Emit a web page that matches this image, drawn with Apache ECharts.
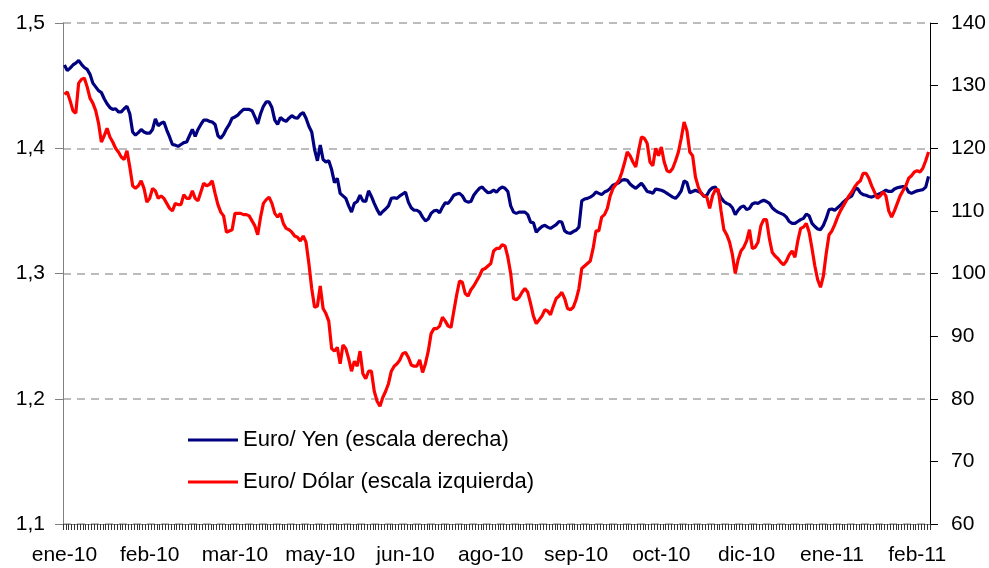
<!DOCTYPE html>
<html>
<head>
<meta charset="utf-8">
<script src="https://cdn.jsdelivr.net/npm/echarts@6/dist/echarts.min.js"></script>
<style>
    html, body {margin: 0; padding: 0; background: #fff;}
    #chartDiv {width: 989px; height: 568px;}
</style>
</head>
<body>
<div id="chartDiv"></div>
<script>
    // etiquetas del eje x, una cada 30 sesiones
    var tickLabels = ['ene-10', 'feb-10', 'mar-10', 'may-10', 'jun-10', 'ago-10', 'sep-10', 'oct-10', 'dic-10', 'ene-11', 'feb-11'];
    var labelStep = 30;

    // Euro/ Dolar (escala izquierda)
    var euroDolar = [
        1.443, 1.445, 1.438, 1.430, 1.428, 1.452, 1.455, 1.456, 1.449, 1.440,
        1.436, 1.430, 1.420, 1.405, 1.410, 1.416, 1.409, 1.405, 1.400, 1.397,
        1.393, 1.391, 1.398, 1.385, 1.370, 1.368, 1.370, 1.374, 1.368, 1.357,
        1.360, 1.368, 1.366, 1.360, 1.362, 1.360, 1.356, 1.352, 1.350, 1.356,
        1.355, 1.355, 1.363, 1.360, 1.360, 1.366, 1.360, 1.358, 1.365, 1.372,
        1.370, 1.371, 1.374, 1.364, 1.355, 1.349, 1.346, 1.333, 1.334, 1.335,
        1.348, 1.348, 1.348, 1.347, 1.347, 1.346, 1.342, 1.338, 1.331, 1.345,
        1.356, 1.359, 1.361, 1.356, 1.348, 1.345, 1.348, 1.340, 1.336, 1.335,
        1.333, 1.330, 1.329, 1.326, 1.330, 1.325, 1.308, 1.288, 1.273, 1.274,
        1.290, 1.272, 1.268, 1.262, 1.240, 1.238, 1.241, 1.228, 1.243, 1.240,
        1.232, 1.222, 1.230, 1.226, 1.238, 1.220, 1.216, 1.222, 1.222, 1.206,
        1.198, 1.194, 1.201, 1.206, 1.212, 1.222, 1.226, 1.228, 1.231, 1.236,
        1.237, 1.233, 1.227, 1.226, 1.226, 1.231, 1.221, 1.228, 1.238, 1.252,
        1.256, 1.256, 1.258, 1.265, 1.262, 1.258, 1.257, 1.270, 1.283, 1.294,
        1.293, 1.284, 1.282, 1.287, 1.290, 1.294, 1.298, 1.303, 1.304, 1.306,
        1.308, 1.318, 1.320, 1.320, 1.323, 1.322, 1.313, 1.300, 1.280, 1.279,
        1.281, 1.285, 1.288, 1.285, 1.276, 1.266, 1.260, 1.263, 1.266, 1.271,
        1.270, 1.267, 1.274, 1.280, 1.282, 1.285, 1.280, 1.272, 1.271, 1.273,
        1.279, 1.288, 1.304, 1.306, 1.308, 1.310, 1.320, 1.334, 1.334, 1.345,
        1.347, 1.352, 1.362, 1.368, 1.371, 1.374, 1.380, 1.388, 1.397, 1.394,
        1.389, 1.385, 1.398, 1.409, 1.408, 1.404, 1.389, 1.386, 1.400, 1.394,
        1.401, 1.389, 1.382, 1.381, 1.384, 1.390, 1.397, 1.408, 1.421, 1.414,
        1.397, 1.394, 1.377, 1.369, 1.364, 1.362, 1.361, 1.352, 1.362, 1.367,
        1.367, 1.350, 1.335, 1.331, 1.325, 1.315, 1.300, 1.311, 1.318, 1.321,
        1.326, 1.335, 1.320, 1.321, 1.325, 1.338, 1.343, 1.343, 1.328, 1.317,
        1.314, 1.312, 1.309, 1.307, 1.310, 1.315, 1.318, 1.313, 1.326, 1.336,
        1.337, 1.340, 1.333, 1.320, 1.306, 1.295, 1.289, 1.298, 1.316, 1.331,
        1.334, 1.339, 1.345, 1.350, 1.354, 1.358, 1.362, 1.365, 1.369, 1.372,
        1.374, 1.380, 1.380, 1.376, 1.370, 1.365, 1.360, 1.362, 1.365, 1.362,
        1.350, 1.345, 1.350, 1.356, 1.362, 1.366, 1.370, 1.376, 1.378, 1.381,
        1.382, 1.381, 1.384, 1.390, 1.397
    ];

    // Euro/ Yen (escala derecha)
    var euroYen = [
        133.3, 132.4, 132.8, 133.3, 133.6, 134.0, 133.4, 132.9, 132.6, 131.8,
        130.4, 129.8, 129.2, 128.9, 127.9, 127.1, 126.5, 126.2, 126.3, 125.8,
        125.8, 126.3, 126.7, 125.5, 122.6, 122.1, 122.5, 123.0, 122.6, 122.4,
        122.4, 123.0, 124.7, 123.6, 124.0, 124.2, 122.9, 121.8, 120.6, 120.5,
        120.3, 120.6, 120.9, 121.0, 122.0, 123.0, 121.9, 123.0, 123.8, 124.5,
        124.5, 124.3, 124.2, 123.8, 122.0, 121.6, 122.2, 123.1, 123.8, 124.8,
        125.0, 125.3, 125.8, 126.2, 126.2, 126.2, 126.0, 125.0, 123.9, 125.5,
        126.7, 127.4, 127.4, 126.5, 124.5, 123.8, 124.9, 124.5, 124.3, 124.8,
        125.2, 124.9, 124.8, 125.4, 125.7, 124.8, 123.5, 122.6, 119.8, 118.0,
        120.5, 118.2, 117.8, 118.0, 116.6, 114.5, 115.2, 112.8, 112.4, 112.0,
        110.8, 109.8, 111.2, 111.5, 112.5, 111.6, 111.5, 113.2, 112.3, 111.2,
        110.2, 109.4, 109.9, 110.3, 110.8, 112.0, 112.1, 112.0, 112.4, 112.7,
        113.0, 111.4, 110.5, 110.1, 110.1, 109.8, 109.0, 108.4, 108.7, 109.6,
        110.0, 110.1, 109.7, 110.6, 111.3, 111.2, 111.8, 112.5, 112.7, 112.8,
        112.4, 111.6, 111.4, 111.5, 112.5, 113.1, 113.6, 113.8, 113.3, 112.9,
        113.0, 113.3, 113.0, 113.5, 113.8, 113.6, 113.1, 110.8, 109.8, 109.6,
        109.8, 109.8, 109.8, 109.4, 108.2, 108.1, 106.6, 107.1, 107.5, 107.7,
        107.4, 107.2, 107.5, 107.8, 108.3, 108.2, 106.8, 106.5, 106.4, 106.7,
        106.9, 107.4, 111.6, 111.9, 112.0, 112.2, 112.5, 113.0, 112.8, 112.6,
        113.0, 113.2, 113.6, 114.1, 114.3, 114.5, 114.9, 115.0, 114.9, 114.3,
        113.9, 113.6, 114.0, 114.4, 113.8, 113.1, 113.0, 112.8, 113.5, 113.4,
        113.3, 113.1, 112.8, 112.5, 112.2, 112.0, 112.5, 113.2, 114.8, 114.5,
        112.9, 113.1, 113.3, 113.1, 112.9, 112.3, 112.5, 113.3, 113.7, 113.8,
        113.0, 112.1, 111.5, 111.2, 111.0, 110.5, 109.4, 110.1, 110.6, 110.8,
        110.2, 110.4, 111.1, 111.3, 111.2, 111.5, 111.7, 111.5, 111.2, 110.5,
        110.1, 109.8, 109.6, 109.4, 109.0, 108.3, 108.0, 108.0, 108.3, 108.6,
        108.8, 109.5, 109.2, 108.0, 107.5, 107.1, 107.0, 107.7, 108.8, 110.2,
        110.3, 110.1, 110.5, 110.9, 111.4, 111.8, 112.1, 112.4, 113.4, 113.6,
        112.9, 112.6, 112.5, 112.3, 112.2, 112.4, 112.6, 112.8, 113.0, 113.3,
        113.1, 113.1, 113.5, 113.7, 113.8, 113.9, 113.8, 113.0, 112.8, 113.0,
        113.2, 113.3, 113.4, 113.8, 115.5
    ];

    var sessions = euroDolar.map(function (v, i) {
        return i;
    });

    var fontFamily = 'Liberation Sans, Arial, sans-serif';

    function commaFormat(v) {
        return v.toFixed(1).replace('.', ',');
    }

    var chart = echarts.init(document.getElementById('chartDiv'), null, {renderer: 'canvas'});
    var option = {
        animation: false,
        backgroundColor: '#fff',
        textStyle: {fontFamily: fontFamily},
        grid: {left: 63, right: 55, top: 23, bottom: 44},
        legend: {
            orient: 'vertical',
            left: 183,
            top: 424,
            itemWidth: 50,
            itemHeight: 3,
            itemGap: 20,
            icon: 'rect',
            textStyle: {fontSize: 22, color: '#000', fontFamily: fontFamily},
            data: ['Euro/ Yen (escala derecha)', 'Euro/ Dólar (escala izquierda)']
        },
        xAxis: {
            type: 'category',
            boundaryGap: true,
            data: sessions,
            axisLine: {lineStyle: {color: '#808080', width: 1}},
            axisTick: {show: true, interval: 0, length: 6, lineStyle: {color: '#333'}},
            axisLabel: {
                interval: function (idx) {
                    return idx % labelStep === 0;
                },
                formatter: function (value, idx) {
                    return tickLabels[Math.round(idx / labelStep)] || '';
                },
                margin: 21,
                fontSize: 21,
                color: '#000',
                fontFamily: fontFamily
            },
            splitLine: {show: false}
        },
        yAxis: [
            {
                type: 'value',
                position: 'left',
                min: 1.1,
                max: 1.5,
                interval: 0.1,
                axisLine: {show: true, lineStyle: {color: '#808080'}},
                axisTick: {show: true, length: 8, lineStyle: {color: '#808080'}},
                axisLabel: {
                    formatter: commaFormat,
                    margin: 18,
                    fontSize: 21,
                    color: '#000',
                    fontFamily: fontFamily
                },
                splitLine: {show: true, lineStyle: {color: '#a6a6a6', type: [8, 6], width: 1.5}}
            },
            {
                type: 'value',
                position: 'right',
                min: 60,
                max: 140,
                interval: 10,
                axisLine: {show: true, lineStyle: {color: '#000'}},
                axisTick: {show: true, length: 8, lineStyle: {color: '#000'}},
                axisLabel: {
                    margin: 21,
                    fontSize: 21,
                    color: '#000',
                    fontFamily: fontFamily
                },
                splitLine: {show: false}
            }
        ],
        series: [
            {
                name: 'Euro/ Yen (escala derecha)',
                type: 'line',
                yAxisIndex: 1,
                showSymbol: false,
                symbol: 'none',
                lineStyle: {color: '#000080', width: 3.2},
                itemStyle: {color: '#000080'},
                data: euroYen
            },
            {
                name: 'Euro/ Dólar (escala izquierda)',
                type: 'line',
                yAxisIndex: 0,
                showSymbol: false,
                symbol: 'none',
                lineStyle: {color: '#ff0000', width: 3.2},
                itemStyle: {color: '#ff0000'},
                data: euroDolar
            }
        ]
    };
    chart.setOption(option);
</script>
</body>
</html>
